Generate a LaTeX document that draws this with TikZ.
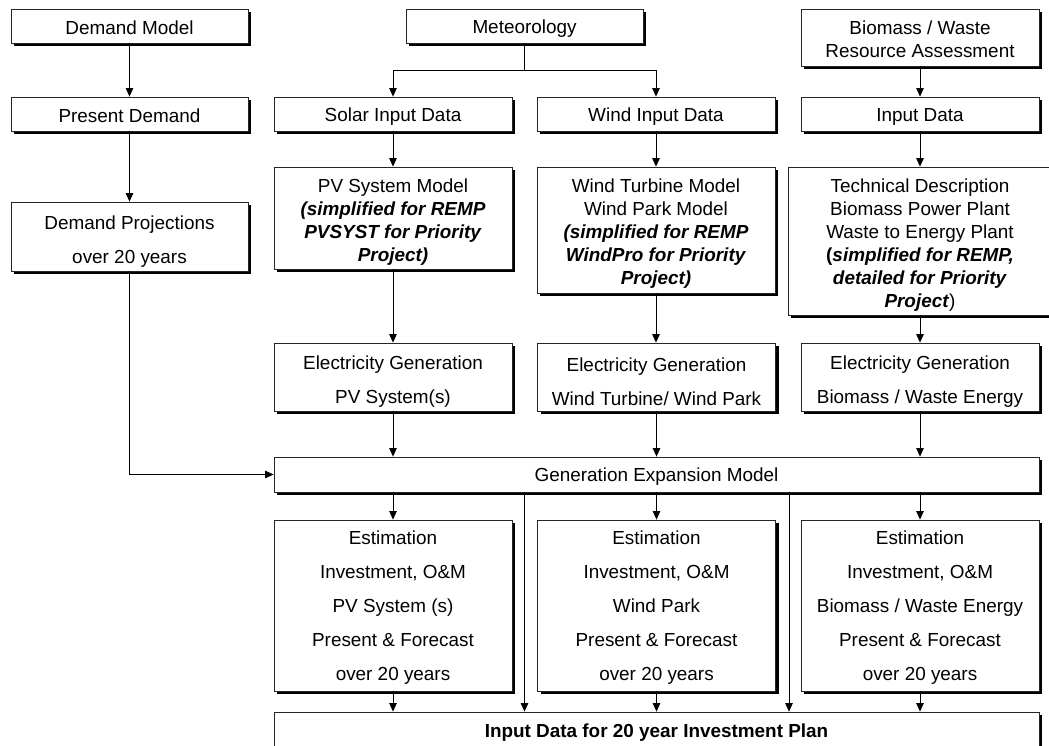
\documentclass[tikz,border=0pt]{standalone}
\usepackage{fontspec}
\setmainfont{Liberation Sans}
\usetikzlibrary{arrows.meta,shadows,calc}
\newcommand\upTall{\rule{0pt}{21pt}}
\newcommand\upLoose{\rule{0pt}{23pt}}
\newcommand\upSmall{\rule{0pt}{17pt}}
\begin{document}
\begin{tikzpicture}[x=1pt,y=-1pt,
  box/.style={draw=black!85, line width=0.8pt, fill=white, inner sep=0pt, align=center,
    drop shadow={shadow xshift=3pt, shadow yshift=-3pt, fill=black, opacity=1},
    font=\fontsize{18.9}{23}\selectfont,
    execute at begin node={\rule{0pt}{18pt}}},
  loose/.style={font=\fontsize{18.9}{34}\selectfont},
  col/.style={minimum width=238pt},
  arr/.style={line width=0.8pt, -{Triangle[length=8.5pt,width=7.5pt]}}]
\useasboundingbox (0,0) rectangle (1049,746);

% left column
\node[box, minimum width=237pt, minimum height=34pt] (dm) at (129.5,26) {Demand Model};
\node[box, minimum width=237pt, minimum height=34pt] (pd) at (129.5,114) {Present Demand};
\node[box, loose, minimum width=237pt, minimum height=69pt] (dp) at (129.5,236.5) {\upLoose Demand Projections\\over 20 years};

% top row
\node[box, minimum width=237pt, minimum height=34pt] (met) at (524.5,26) {Meteorology};
\node[box, col, minimum height=57pt] (bio) at (920,37.5) {\upSmall Biomass / Waste\\Resource Assessment};

% input row
\node[box, col, minimum height=34pt] (sol) at (393,114) {Solar Input Data};
\node[box, col, minimum height=34pt] (win) at (656,114) {Wind Input Data};
\node[box, col, minimum height=34pt] (inp) at (920,114) {Input Data};

% models
\node[box, col, minimum height=102pt] (pv) at (393,218) {\upTall PV System Model\\\textbf{\textit{(simplified for REMP}}\\\textbf{\textit{PVSYST for Priority}}\\\textbf{\textit{Project)}}};
\node[box, col, minimum height=126pt] (wt) at (656,230) {\upTall Wind Turbine Model\\Wind Park Model\\\textbf{\textit{(simplified for REMP}}\\\textbf{\textit{WindPro for Priority}}\\\textbf{\textit{Project)}}};
\node[box, minimum width=264pt, minimum height=148pt] (td) at (920,241) {\upTall Technical Description\\Biomass Power Plant\\Waste to Energy Plant\\\textbf{(\textit{simplified for REMP,}}\\\textbf{\textit{detailed for Priority}}\\\textbf{\textit{Project}})};

% electricity generation
\node[box, loose, col, minimum height=68pt] (eg1) at (393,377) {\upLoose Electricity Generation\\PV System(s)};
\node[box, loose, col, minimum height=68pt] (eg2) at (656.5,377) {\upLoose Electricity Generation\\Wind Turbine/ Wind Park};
\node[box, loose, col, minimum height=68pt] (eg3) at (920,377) {\upLoose Electricity Generation\\Biomass / Waste Energy};

% generation expansion model
\node[box, minimum width=765pt, minimum height=35pt] (gem) at (656.5,474.5) {Generation Expansion Model};

% estimation
\node[box, loose, col, minimum height=171pt] (es1) at (393,605.5) {\upSmall Estimation\\Investment, O\&M\\PV System (s)\\Present \& Forecast\\over 20 years};
\node[box, loose, col, minimum height=171pt] (es2) at (656.5,605.5) {\upSmall Estimation\\Investment, O\&M\\Wind Park\\Present \& Forecast\\over 20 years};
\node[box, loose, col, minimum height=171pt] (es3) at (920,605.5) {\upSmall Estimation\\Investment, O\&M\\Biomass / Waste Energy\\Present \& Forecast\\over 20 years};

% final
\node[box, minimum width=765pt, minimum height=36pt] (idp) at (656.5,730) {\textbf{Input Data for 20 year Investment Plan}};

\coordinate (g1) at (524.5,0);
\coordinate (g2) at (789,0);

% connectors
\draw[arr] (dm.south) -- (pd.north);
\draw[arr] (pd.south) -- (dp.north);
\draw[arr] (dp.south) -- (dp.south |- gem.west) -- (gem.west);

\draw[arr] (met.south) -- ++(0,27) -| (sol.north);
\draw[arr] (met.south) -- ++(0,27) -| (win.north);
\draw[arr] (bio.south) -- (inp.north);

\draw[arr] (sol.south) -- (pv.north);
\draw[arr] (win.south) -- (win.south |- wt.north);
\draw[arr] (inp.south) -- (td.north);

\draw[arr] (pv.south) -- (eg1.north);
\draw[arr] (wt.south) -- (wt.south |- eg2.north);
\draw[arr] (td.south) -- (eg3.north);

\draw[arr] (eg1.south) -- (eg1.south |- gem.north);
\draw[arr] (eg2.south) -- (eg2.south |- gem.north);
\draw[arr] (eg3.south) -- (eg3.south |- gem.north);

\draw[arr] (es1.north |- gem.south) -- (es1.north);
\draw[arr] (es2.north |- gem.south) -- (es2.north);
\draw[arr] (es3.north |- gem.south) -- (es3.north);

\draw[arr] (g1 |- gem.south) -- (g1 |- idp.north);
\draw[arr] (g2 |- gem.south) -- (g2 |- idp.north);

\draw[arr] (es1.south) -- (es1.south |- idp.north);
\draw[arr] (es2.south) -- (es2.south |- idp.north);
\draw[arr] (es3.south) -- (es3.south |- idp.north);
\end{tikzpicture}
\end{document}
